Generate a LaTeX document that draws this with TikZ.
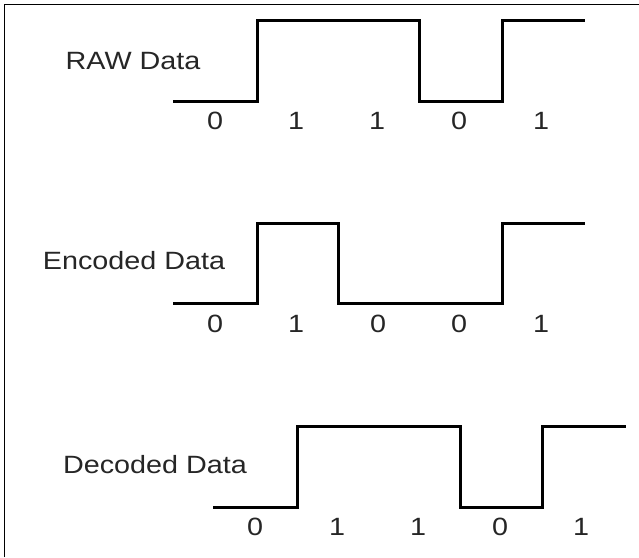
\documentclass[tikz,border=0pt]{standalone}
\usepackage{fontspec}
\setmainfont{Liberation Sans}
% slightly wide lettering used for all labels
\newcommand\stretchtxt[1]{\scalebox{1.15}[1]{#1}}
\begin{document}
\begin{tikzpicture}[x=1pt,y=-1pt,
  wave/.style={line width=3pt, line join=miter, line cap=butt},
  lbl/.style={font=\fontsize{25}{28}\selectfont, inner sep=0pt, text=black!85},
  frameline/.style={line width=1pt}]
\useasboundingbox (0,0) rectangle (639,557);

% outer frame (left and top edges only)
\draw[frameline] (4,557) -- (4,4.5) -- (639,4.5);

% signal titles
\node[lbl] (rawtitle) at (133,61.5) {\stretchtxt{RAW Data}};
\node[lbl] (enctitle) at (134,261) {\stretchtxt{Encoded Data}};
\node[lbl] (dectitle) at (155,465) {\stretchtxt{Decoded Data}};

% waveforms
\draw[wave] (173,101) -- (257,101) -- (257,20) -- (419,20) -- (419,101)
  -- (502,101) -- (502,20) -- (585,20);
\draw[wave] (173,303) -- (257,303) -- (257,223) -- (338,223) -- (338,303)
  -- (502,303) -- (502,223) -- (585,223);
\draw[wave] (213,507) -- (297,507) -- (297,426) -- (460,426) -- (460,507)
  -- (542,507) -- (542,426) -- (626,426);

% bit values under each waveform
\foreach \x/\b [count=\i] in {215/0,296/1,377/1,459/0,541/1}
  \node[lbl] (rawbit\i) at (\x,120.5) {\stretchtxt{\b}};
\foreach \x/\b [count=\i] in {215/0,296/1,378/0,459/0,541/1}
  \node[lbl] (encbit\i) at (\x,323.5) {\stretchtxt{\b}};
\foreach \x/\b [count=\i] in {255/0,337/1,418/1,500/0,581/1}
  \node[lbl] (decbit\i) at (\x,526.5) {\stretchtxt{\b}};
\end{tikzpicture}
\end{document}
